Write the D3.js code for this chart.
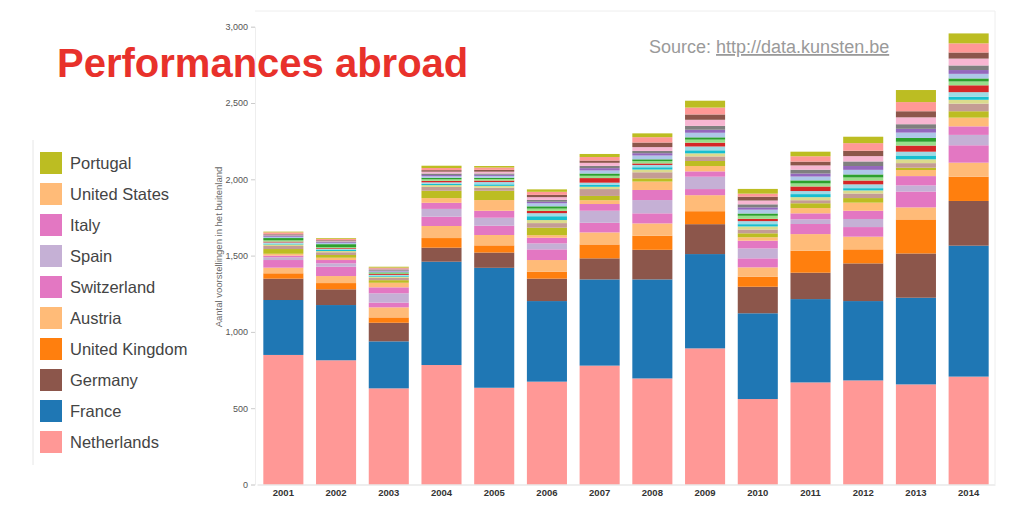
<!DOCTYPE html>
<html><head><meta charset="utf-8">
<script src="https://cdn.jsdelivr.net/npm/d3@7"></script>
<style>body{margin:0;background:#fff;font-family:"Liberation Sans",Arial,sans-serif}</style>
</head><body><svg width="1024" height="515"></svg>
<script>
// years on the x axis
const years = ["2001","2002","2003","2004","2005","2006","2007","2008","2009","2010","2011","2012","2013","2014"];

// legend countries (bottom of stack first)
const netherlands   = [849,814,630,783,634,674,779,695,892,560,669,682,656,707];
const france        = [360,362,308,677,786,528,565,649,618,562,546,520,568,858];
const germany       = [140,103,122,92,100,147,138,194,196,174,173,247,290,293];
const unitedKingdom = [35,41,35,63,47,46,91,92,85,65,144,92,223,159];
const austria       = [37,46,66,79,68,76,79,81,105,62,109,83,79,92];
const switzerland   = [50,61,31,61,61,70,63,66,40,59,66,63,104,114];
const spain         = [18,22,61,51,52,39,79,87,81,65,31,53,40,68];
const italy         = [11,22,39,40,46,37,44,66,35,51,39,54,61,56];
const unitedStates  = [12,15,30,31,70,17,25,55,35,22,35,53,40,57];
const portugal      = [31,18,17,48,61,49,28,21,33,26,31,30,15,42];

// remaining countries, the thin stripes on top
const luxembourg = [20,18,15,25,20,30,45,40,30,25,20,30,30,50];
const denmark    = [10,8,8,12,12,20,15,18,20,20,20,20,25,25];
const sweden     = [5,8,6,8,10,25,12,15,20,15,20,15,25,20];
const norway     = [8,6,5,10,15,20,15,15,25,20,20,25,25,30];
const canada     = [6,5,6,10,10,15,30,10,25,15,30,25,40,45];
const poland     = [8,6,5,10,10,15,15,15,20,20,20,20,25,25];
const czech      = [15,20,6,10,8,15,15,12,15,15,20,20,25,20];
const finland    = [8,8,6,10,12,20,20,25,30,25,25,30,35,30];
const hungary    = [5,5,4,8,8,10,15,15,20,15,20,25,25,25];
const ireland    = [5,5,5,10,8,12,15,15,25,20,25,30,30,30];
const japan      = [5,5,5,12,12,18,20,25,40,25,28,35,45,45];
const australia  = [4,4,5,10,12,15,15,30,35,25,25,35,40,40];
const brazil     = [10,8,6,14,15,20,23,35,45,20,35,50,60,60];
const russia     = [5,5,6,15,10,16,20,25,45,31,30,42,79,65];

const yTicks = [0,500,1000,1500,2000,2500,3000];

const series = [
  {name:"Netherlands", values:netherlands, color:"#ff9896"},
  {name:"France", values:france, color:"#1f77b4"},
  {name:"Germany", values:germany, color:"#8c564b"},
  {name:"United Kingdom", values:unitedKingdom, color:"#ff7f0e"},
  {name:"Austria", values:austria, color:"#ffbb78"},
  {name:"Switzerland", values:switzerland, color:"#e377c2"},
  {name:"Spain", values:spain, color:"#c5b0d5"},
  {name:"Italy", values:italy, color:"#e377c2"},
  {name:"United States", values:unitedStates, color:"#ffbb78"},
  {name:"Portugal", values:portugal, color:"#bcbd22"},
  {name:"Luxembourg", values:luxembourg, color:"#c49c94"},
  {name:"Denmark", values:denmark, color:"#dbdb8d"},
  {name:"Sweden", values:sweden, color:"#17becf"},
  {name:"Norway", values:norway, color:"#9edae5"},
  {name:"Canada", values:canada, color:"#d62728"},
  {name:"Poland", values:poland, color:"#98df8a"},
  {name:"Czech Republic", values:czech, color:"#2ca02c"},
  {name:"Finland", values:finland, color:"#aec7e8"},
  {name:"Hungary", values:hungary, color:"#9467bd"},
  {name:"Ireland", values:ireland, color:"#7f7f7f"},
  {name:"Japan", values:japan, color:"#f7b6d2"},
  {name:"Australia", values:australia, color:"#8c564b"},
  {name:"Brazil", values:brazil, color:"#ff9896"},
  {name:"Russia", values:russia, color:"#bcbd22"}
];

const svg = d3.select("svg");

// build table for d3.stack
const table = years.map((y, i) => {
  const row = {year: y};
  series.forEach(s => row[s.name] = s.values[i]);
  return row;
});
const stacked = d3.stack().keys(series.map(s => s.name))(table);

const x = d3.scaleBand().domain(years).range([257, 995]).paddingInner(0.24).paddingOuter(0.12);
const y = d3.scaleLinear().domain([0, 3000]).range([484.5, 26.7]);

// plot frame (faint)
svg.append("path").attr("d", "M255,11H995V484").attr("fill", "none").attr("stroke", "#eee");

// bars
stacked.forEach((layer, li) => {
  svg.append("g").selectAll("rect").data(layer).join("rect")
    .attr("x", d => x(d.data.year))
    .attr("width", x.bandwidth())
    .attr("y", d => y(d[1]))
    .attr("height", d => y(d[0]) - y(d[1]))
    .attr("fill", series[li].color);
});

// y axis
const yAxis = svg.append("g").attr("transform", "translate(255,0)")
  .call(d3.axisLeft(y).tickValues(yTicks).tickSize(4).tickPadding(3));
yAxis.select(".domain").attr("stroke", "#eee");
yAxis.selectAll(".tick line").attr("stroke", "#ccc");
yAxis.selectAll("text").attr("fill", "#555").attr("font-size", 9).attr("font-family", "Liberation Sans, Arial");

// x axis
const xAxis = svg.append("g").attr("transform", "translate(0,484.5)")
  .call(d3.axisBottom(x).tickSize(0).tickPadding(5));
xAxis.select(".domain").attr("stroke", "#ddd");
xAxis.selectAll("text").attr("fill", "#333").attr("font-size", 9.5).attr("font-weight", "bold")
  .attr("font-family", "Liberation Sans, Arial");

svg.append("text").attr("transform", "translate(222,247) rotate(-90)")
  .attr("text-anchor", "middle").attr("font-size", 9.5).attr("fill", "#666")
  .text("Aantal voorstellingen in het buitenland");

// title & source
svg.append("text").attr("x", 57).attr("y", 77).attr("font-size", 40).attr("font-weight", "bold")
  .attr("fill", "#e8312b").text("Performances abroad");
const src = svg.append("text").attr("x", 649).attr("y", 53).attr("font-size", 18).attr("fill", "#9a9a9a");
src.append("tspan").text("Source: ");
src.append("tspan").attr("text-decoration", "underline").text("http://data.kunsten.be");

// legend
const legendItems = series.slice(0, 10).reverse();
svg.append("line").attr("x1", 33).attr("x2", 33).attr("y1", 140).attr("y2", 465).attr("stroke", "#e6e6e6");
const lg = svg.append("g").selectAll("g").data(legendItems).join("g")
  .attr("transform", (d, i) => `translate(40,${152 + i * 31})`);
lg.append("rect").attr("width", 22).attr("height", 22).attr("fill", d => d.color);
lg.append("text").attr("x", 30).attr("y", 17).attr("font-size", 16.5).attr("fill", "#444").text(d => d.name);
</script></body></html>
